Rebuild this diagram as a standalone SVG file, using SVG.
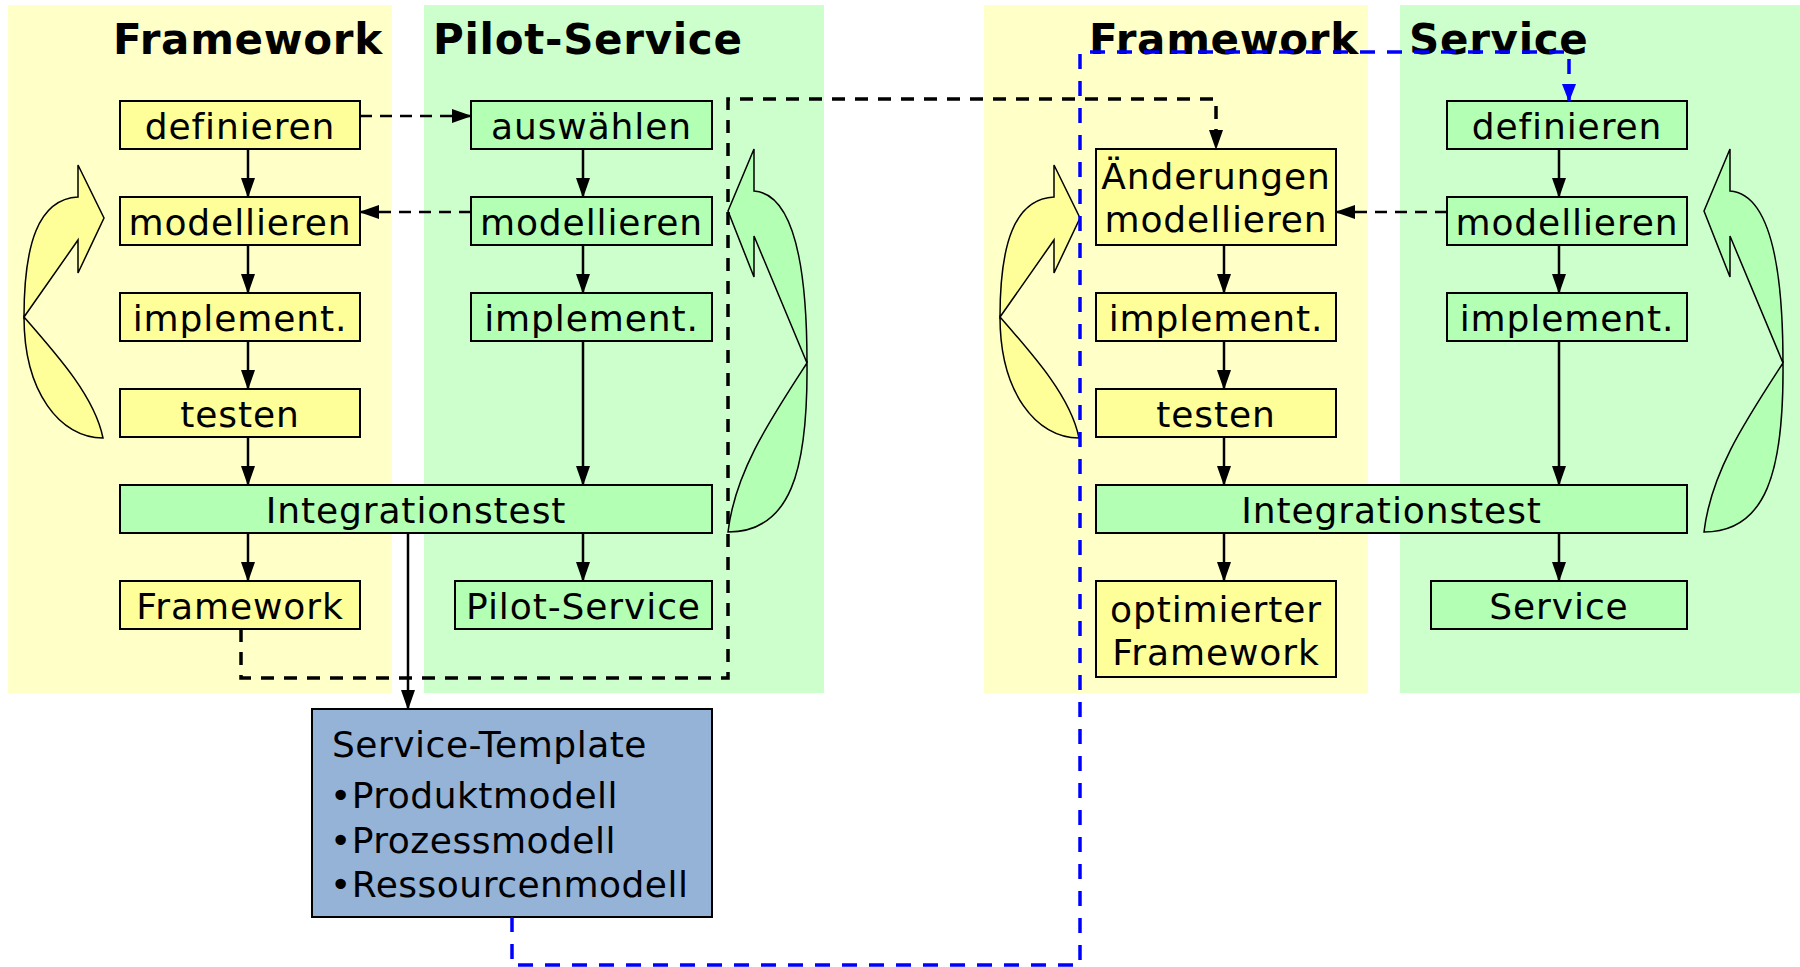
<svg xmlns="http://www.w3.org/2000/svg" width="1800" height="967" viewBox="0 0 1800 967">
<defs>
<style>
.pY{fill:#FFFFC8}
.pG{fill:#CCFFCC}
.bY{fill:#FFFF99;stroke:#000;stroke-width:2}
.bG{fill:#B3FFB3;stroke:#000;stroke-width:2}
.bB{fill:#95B3D7;stroke:#000;stroke-width:2}
.cY{fill:#FFFF99;stroke:#000;stroke-width:1.5;stroke-linejoin:miter}
.cG{fill:#B3FFB3;stroke:#000;stroke-width:1.5;stroke-linejoin:miter}
.h{font-family:"DejaVu Sans",Verdana,sans-serif;font-weight:bold;font-size:42px;fill:#000;letter-spacing:0.7px}
.t{font-family:"DejaVu Sans",Verdana,sans-serif;font-size:36px;fill:#000;text-anchor:middle;letter-spacing:0.9px}
.tl{font-family:"DejaVu Sans",Verdana,sans-serif;font-size:36px;fill:#000;letter-spacing:0.5px}
.s{fill:none;stroke:#000;stroke-width:2.5}
.d{fill:none;stroke:#000;stroke-width:2.5;stroke-dasharray:12 8}
.D{fill:none;stroke:#000;stroke-width:3.5;stroke-dasharray:13 10}
.B{fill:none;stroke:#0000FF;stroke-width:3.5;stroke-dasharray:15 12}
</style>
<marker id="a" markerUnits="userSpaceOnUse" markerWidth="20" markerHeight="14" refX="19" refY="7" orient="auto"><path d="M0,0 L20,7 L0,14 Z" fill="#000"/></marker>
<marker id="ab" markerUnits="userSpaceOnUse" markerWidth="18" markerHeight="14" refX="17" refY="7" orient="auto"><path d="M0,0 L18,7 L0,14 Z" fill="#0000FF"/></marker>
</defs>

<g id="panels">
<rect class="pY" x="8" y="5" width="384" height="688"/>
<rect class="pG" x="424" y="5" width="400" height="688"/>
<rect class="pY" x="984" y="5" width="384" height="688"/>
<rect class="pG" x="1400" y="5" width="400" height="688"/>
</g>

<g id="headings">
<text class="h" x="113" y="54">Framework</text>
<text class="h" x="433" y="54">Pilot-Service</text>
<text class="h" x="1089" y="54">Framework</text>
<text class="h" x="1409" y="54">Service</text>
</g>

<g id="cycle-left-1">
<path class="cY" d="M24,317 C24,245 38,199 78,197 L78,165 L104,218 L78,273 L78,240 Z"/>
<path class="cY" d="M24,317 C24,392 60,438 103,438 C95,398 60,358 24,317 Z"/>
</g>
<g id="cycle-right-1">
<path class="cG" d="M807,363 C807,270 795,194 754,191 L754,149 L728,211 L754,277 L754,236 Z"/>
<path class="cG" d="M807,363 C808,472 790,532 728,532 C735,472 770,420 807,363 Z"/>
</g>
<g id="cycle-left-2">
<path class="cY" d="M1000,317 C1000,245 1014,199 1054,197 L1054,165 L1080,218 L1054,273 L1054,240 Z"/>
<path class="cY" d="M1000,317 C1000,392 1036,438 1079,438 C1071,398 1036,358 1000,317 Z"/>
</g>
<g id="cycle-right-2">
<path class="cG" d="M1783,363 C1783,270 1771,194 1730,191 L1730,149 L1704,211 L1730,277 L1730,236 Z"/>
<path class="cG" d="M1783,363 C1784,472 1766,532 1704,532 C1711,472 1746,420 1783,363 Z"/>
</g>

<g id="n-fw-definieren"><rect class="bY" x="120" y="101" width="240" height="48"/><text class="t" x="240" y="139">definieren</text></g>
<g id="n-fw-modellieren"><rect class="bY" x="120" y="197" width="240" height="48"/><text class="t" x="240" y="235">modellieren</text></g>
<g id="n-fw-implement"><rect class="bY" x="120" y="293" width="240" height="48"/><text class="t" x="240" y="331">implement.</text></g>
<g id="n-fw-testen"><rect class="bY" x="120" y="389" width="240" height="48"/><text class="t" x="240" y="427">testen</text></g>
<g id="n-ps-auswaehlen"><rect class="bG" x="471" y="101" width="241" height="48"/><text class="t" x="591.5" y="139">auswählen</text></g>
<g id="n-ps-modellieren"><rect class="bG" x="471" y="197" width="241" height="48"/><text class="t" x="591.5" y="235">modellieren</text></g>
<g id="n-ps-implement"><rect class="bG" x="471" y="293" width="241" height="48"/><text class="t" x="591.5" y="331">implement.</text></g>
<g id="n-integ-1"><rect class="bG" x="120" y="485" width="592" height="48"/><text class="t" x="416" y="523">Integrationstest</text></g>
<g id="n-framework"><rect class="bY" x="120" y="581" width="240" height="48"/><text class="t" x="240" y="619">Framework</text></g>
<g id="n-pilot-service"><rect class="bG" x="455" y="581" width="257" height="48"/><text class="t" x="583.5" y="619">Pilot-Service</text></g>
<g id="n-service-template"><rect class="bB" x="312" y="709" width="400" height="208"/>
<text class="tl" x="332" y="757">Service-Template</text>
<text class="tl" x="330" y="808">•Produktmodell</text>
<text class="tl" x="330" y="853">•Prozessmodell</text>
<text class="tl" x="330" y="897">•Ressourcenmodell</text></g>

<g id="n-aenderungen"><rect class="bY" x="1096" y="149" width="240" height="96"/><text class="t" x="1216" y="189">Änderungen</text><text class="t" x="1216" y="232">modellieren</text></g>
<g id="n-fw2-implement"><rect class="bY" x="1096" y="293" width="240" height="48"/><text class="t" x="1216" y="331">implement.</text></g>
<g id="n-fw2-testen"><rect class="bY" x="1096" y="389" width="240" height="48"/><text class="t" x="1216" y="427">testen</text></g>
<g id="n-sv-definieren"><rect class="bG" x="1447" y="101" width="240" height="48"/><text class="t" x="1567" y="139">definieren</text></g>
<g id="n-sv-modellieren"><rect class="bG" x="1447" y="197" width="240" height="48"/><text class="t" x="1567" y="235">modellieren</text></g>
<g id="n-sv-implement"><rect class="bG" x="1447" y="293" width="240" height="48"/><text class="t" x="1567" y="331">implement.</text></g>
<g id="n-integ-2"><rect class="bG" x="1096" y="485" width="591" height="48"/><text class="t" x="1391.5" y="523">Integrationstest</text></g>
<g id="n-opt-framework"><rect class="bY" x="1096" y="581" width="240" height="96"/><text class="t" x="1216" y="622">optimierter</text><text class="t" x="1216" y="665">Framework</text></g>
<g id="n-service"><rect class="bG" x="1431" y="581" width="256" height="48"/><text class="t" x="1559" y="619">Service</text></g>

<g id="connectors">
<path class="s" marker-end="url(#a)" d="M248,149 V197"/>
<path class="s" marker-end="url(#a)" d="M248,245 V293"/>
<path class="s" marker-end="url(#a)" d="M248,341 V389"/>
<path class="s" marker-end="url(#a)" d="M248,437 V485"/>
<path class="s" marker-end="url(#a)" d="M248,533 V581"/>
<path class="s" marker-end="url(#a)" d="M583,149 V197"/>
<path class="s" marker-end="url(#a)" d="M583,245 V293"/>
<path class="s" marker-end="url(#a)" d="M583,341 V485"/>
<path class="s" marker-end="url(#a)" d="M583,533 V581"/>
<path class="s" marker-end="url(#a)" d="M408,533 V709"/>
<path class="d" marker-end="url(#a)" d="M360,116 H471"/>
<path class="d" marker-end="url(#a)" d="M471,212 H360"/>
<path class="s" marker-end="url(#a)" d="M1224,245 V293"/>
<path class="s" marker-end="url(#a)" d="M1224,341 V389"/>
<path class="s" marker-end="url(#a)" d="M1224,437 V485"/>
<path class="s" marker-end="url(#a)" d="M1224,533 V581"/>
<path class="s" marker-end="url(#a)" d="M1559,149 V197"/>
<path class="s" marker-end="url(#a)" d="M1559,245 V293"/>
<path class="s" marker-end="url(#a)" d="M1559,341 V485"/>
<path class="s" marker-end="url(#a)" d="M1559,533 V581"/>
<path class="d" marker-end="url(#a)" d="M1447,212 H1336"/>
<path class="D" marker-end="url(#a)" d="M241,629 V678 H728 V99 H1216 V149"/>
<path class="B" marker-end="url(#ab)" d="M512,917 V965 H1080 V52 H1569 V101"/>
</g>
</svg>
